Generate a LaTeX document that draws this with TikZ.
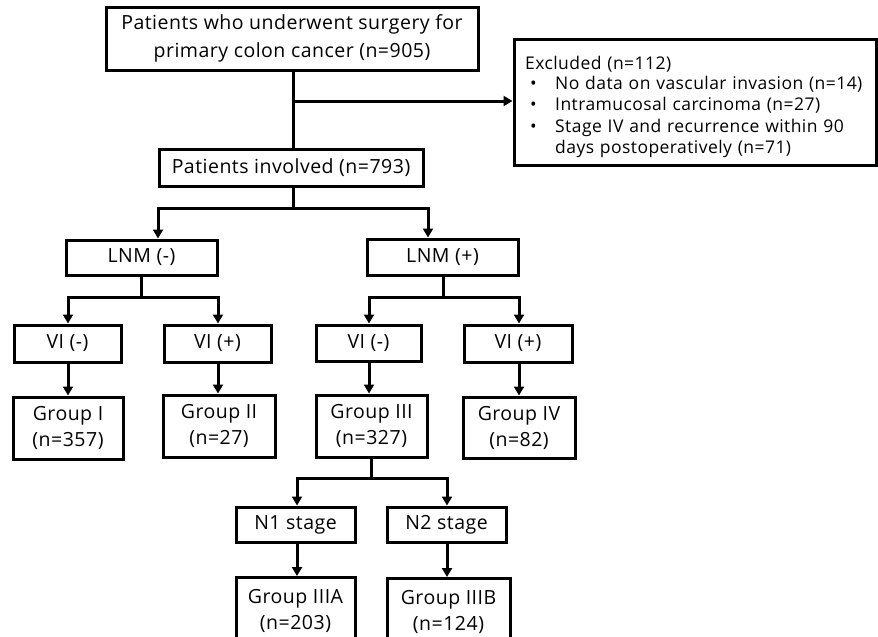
\documentclass[tikz,border=0pt]{standalone}
\usepackage{fontspec}
\setmainfont[LetterSpace=2.5]{Open Sans}
\usetikzlibrary{arrows.meta}
\begin{document}
\begin{tikzpicture}[x=1pt,y=-1pt,
  box/.style={draw=black,line width=3pt,rectangle,inner sep=0pt,align=center,font=\fontsize{19.5}{26}\selectfont},
  conn/.style={line width=3pt},
  arr/.style={line width=3pt,-{Triangle[length=9pt,width=10pt]}}]
\useasboundingbox (0,0) rectangle (878,637);
\node[box,minimum width=372,minimum height=63,font=\fontsize{19.5}{28}\selectfont] (top) at (292,38.5) {Patients who underwent surgery for\\primary colon cancer (n=905)};
\node[box,minimum width=362,minimum height=126] (excl) at (695,102) {};
\node[anchor=north west,inner sep=0pt,text width=345,align=left,font=\fontsize{17.5}{20.5}\selectfont] (exclt) at (525,56)
 {Excluded (n=112)\\
 \makebox[30pt][l]{\hspace{5pt}•}No data on vascular invasion (n=14)\\
 \makebox[30pt][l]{\hspace{5pt}•}Intramucosal carcinoma (n=27)\\[2pt]
 \makebox[30pt][l]{\hspace{5pt}•}Stage IV and recurrence within 90\\
 \hspace*{30pt}days postoperatively (n=71)};
\node[box,minimum width=264,minimum height=37] (inv) at (291,167.5) {Patients involved (n=793)};
\node[box,minimum width=151,minimum height=35] (lnmN) at (141.5,257.5) {LNM (-)};
\node[box,minimum width=151,minimum height=36] (lnmP) at (442.5,257) {LNM (+)};
\node[box,minimum width=107,minimum height=37] (vi1) at (67.5,343.5) {VI (-)};
\node[box,minimum width=107,minimum height=37] (vi2) at (217.5,343.5) {VI (+)};
\node[box,minimum width=105,minimum height=36] (vi3) at (368.5,343) {VI (-)};
\node[box,minimum width=108,minimum height=37] (vi4) at (518,343.5) {VI (+)};
\node[box,minimum width=110,minimum height=62] (g1) at (68,428) {Group I\\(n=357)};
\node[box,minimum width=112,minimum height=62] (g2) at (219,426) {Group II\\(n=27)};
\node[box,minimum width=111,minimum height=62] (g3) at (371.5,426) {Group III\\(n=327)};
\node[box,minimum width=112,minimum height=61] (g4) at (519,427.5) {Group IV\\(n=82)};
\node[box,minimum width=119,minimum height=35] (n1) at (295.5,524.5) {N1 stage};
\node[box,minimum width=119,minimum height=35] (n2) at (446.5,524.5) {N2 stage};
\node[box,minimum width=119,minimum height=66,anchor=north] (g3a) at (295.5,576) {Group IIIA\\(n=203)};
\node[box,minimum width=123,minimum height=66,anchor=north] (g3b) at (448.5,577) {Group IIIB\\(n=124)};
% connectors
\coordinate (s0) at (293,101);
\draw[conn] (top.south -| s0) -- (inv.north -| s0);
\draw[arr] (s0) -- (s0 -| excl.west);
\coordinate (s1) at (293,208);
\draw[conn] (inv.south -| s1) -- (s1);
\draw[arr] (s1) -| (lnmN.north -| 158,0);
\draw[arr] (s1) -| (lnmP.north -| 428,0);
\coordinate (s2) at (141,297);
\draw[conn] (lnmN.south -| s2) -- (s2);
\draw[arr] (s2) -| (vi1.north -| 68,0);
\draw[arr] (s2) -| (vi2.north -| 218,0);
\coordinate (s3) at (443,297);
\draw[conn] (lnmP.south -| s3) -- (s3);
\draw[arr] (s3) -| (vi3.north -| 369,0);
\draw[arr] (s3) -| (vi4.north -| 519,0);
\draw[arr] (vi1.south -| 68,0) -- (g1.north -| 68,0);
\draw[arr] (vi2.south -| 218,0) -- (g2.north -| 218,0);
\draw[arr] (vi3.south -| 369,0) -- (g3.north -| 369,0);
\draw[arr] (vi4.south -| 519,0) -- (g4.north -| 519,0);
\coordinate (s4) at (371,478);
\draw[conn] (g3.south -| s4) -- (s4);
\draw[arr] (s4) -| (n1.north -| 297,0);
\draw[arr] (s4) -| (n2.north -| 447,0);
\draw[arr] (n1.south -| 297,0) -- (g3a.north -| 297,0);
\draw[arr] (n2.south -| 447,0) -- (g3b.north -| 447,0);
\end{tikzpicture}
\end{document}
